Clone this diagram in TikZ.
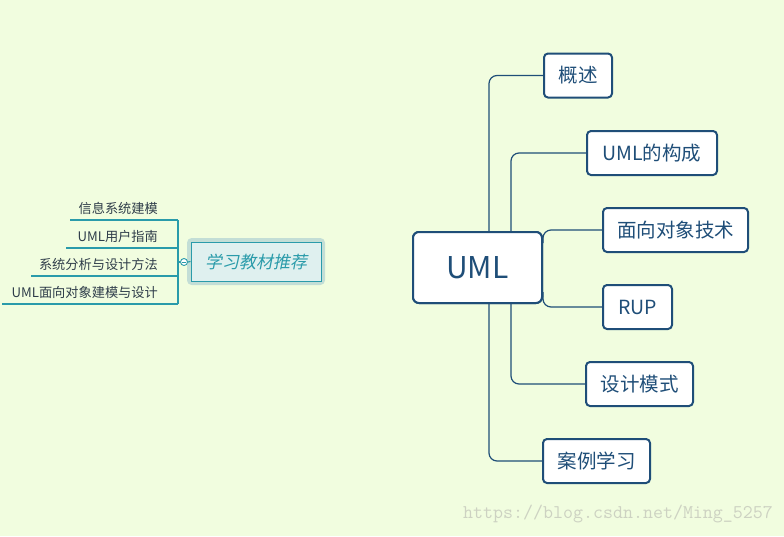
\documentclass[tikz,border=0pt]{standalone}
\usepackage{fontspec}
\setmainfont{Noto Sans CJK SC}
\newfontfamily\cjkit[FakeSlant=0.2]{Noto Sans CJK SC}
\definecolor{bg}{HTML}{F1FDDF}
\definecolor{dk}{HTML}{1F4E78}
\definecolor{tl}{HTML}{2A9BAA}
\definecolor{tlfill}{HTML}{DFF0EF}
\definecolor{glow}{HTML}{C3DED6}
\definecolor{lf}{HTML}{2F3D4A}
\definecolor{wmc}{HTML}{CDD2C2}
\tikzset{
  topic/.style={draw=dk, line width=2pt, rounded corners=4pt, fill=white, text=dk,
    font=\fontsize{19.5}{21}\selectfont, inner sep=0pt, minimum height=44pt},
  central/.style={topic, minimum width=129pt, minimum height=71pt, rounded corners=6pt,
    font=\fontsize{30}{32}\selectfont},
  conn/.style={draw=dk, line width=1.2pt, rounded corners=8pt},
  leaf/.style={anchor=base east, text=lf, font=\fontsize{13.2}{15}\selectfont, inner sep=0pt},
  leafline/.style={draw=tl, line width=1.1pt},
}
\begin{document}
\begin{tikzpicture}[x=1pt,y=-1pt]
\fill[bg] (0,0) rectangle (784,536);
\useasboundingbox (0,0) rectangle (784,536);

% central topic
\node[central] (uml) at (477.5,267.5) {UML};

\node[topic, minimum width=68pt] (gs) at (578,75.5) {概述};
\node[topic, minimum width=130pt] (gc) at (652,153) {UML的构成};
\node[topic, minimum width=145pt] (mx) at (675.5,230) {面向对象技术};
\node[topic, minimum width=69pt] (rup) at (637.5,307) {RUP};
\node[topic, minimum width=107pt] (sj) at (639.5,384) {设计模式};
\node[topic, minimum width=107pt] (al) at (596.5,461) {案例学习};

\draw[conn] (uml.north west) ++(77,0) |- (gs.west);
\draw[conn] (uml.north west) ++(99,0) |- (gc.west);
\draw[conn] (uml.north east) ++(0,12) |- (mx.west);
\draw[conn] (uml.south east) ++(0,-12) |- (rup.west);
\draw[conn] (uml.south west) ++(99,0) |- (sj.west);
\draw[conn] (uml.south west) ++(77,0) |- (al.west);
% redraw central box on top of the connector starts
\node[central] (umltop) at (uml) {UML};

% left branch
\draw[glow, line width=4pt, rounded corners=3pt] (189,240) rectangle (323,283);
\node[draw=tl, line width=1pt, fill=tlfill, text=tl, minimum width=130pt, minimum height=39pt,
  inner sep=0pt, font=\cjkit\fontsize{17}{19}\selectfont] (xx) at (256,261.5) {学习教材推荐};
\node[circle, draw=tl, line width=0.9pt, fill=white, minimum size=7pt, inner sep=0pt] (ci) at (184,262) {};
\draw[tl, line width=0.9pt] (181.8,262) -- (186.2,262);
\draw[leafline] (ci.east) -- (xx.west);

\coordinate (vt) at (178,220);
\coordinate (vb) at (178,304);
\draw[leafline] (vt) -- (vb);
\draw[leafline] (ci.west) -- (178,262);

\node[leaf] (l1) at (158,213) {信息系统建模};
\node[leaf] (l2) at (158,241) {UML用户指南};
\node[leaf] (l3) at (158,269) {系统分析与设计方法};
\node[leaf] (l4) at (158,297) {UML面向对象建模与设计};
\coordinate (e1) at (70,220);
\coordinate (e2) at (66,248);
\coordinate (e3) at (31,276);
\coordinate (e4) at (2,304);
\draw[leafline] (vt) -- (e1);
\draw[leafline] (vt |- e2) -- (e2);
\draw[leafline] (vt |- e3) -- (e3);
\draw[leafline] (vb) -- (e4);

% watermark
\node[anchor=base west, inner sep=0pt, text=wmc, font=\ttfamily\fontsize{19.4}{20}\selectfont] (wm) at (463,518) {https://blog.csdn.net/Ming\_5257};
\end{tikzpicture}
\end{document}
